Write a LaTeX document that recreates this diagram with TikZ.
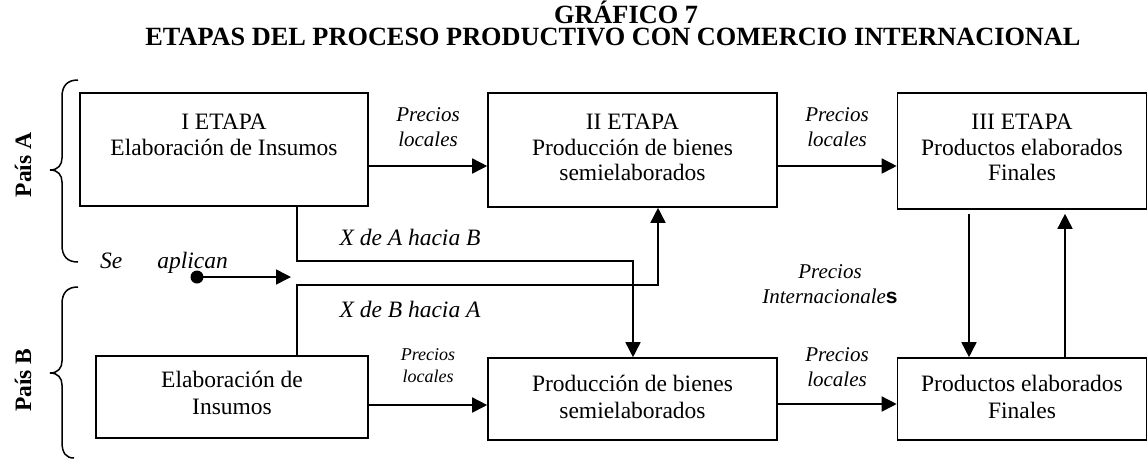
\documentclass[tikz,border=0pt]{standalone}
\usepackage{fontspec}
\setmainfont{Liberation Serif}
\newfontfamily\sansfam{Liberation Sans}
\usetikzlibrary{arrows.meta,calc}
\begin{document}
\begin{tikzpicture}[x=1pt,y=-1pt,
  box/.style={draw, line width=1.6pt, inner sep=0pt},
  body/.style={font=\fontsize{23.5}{25.5}\selectfont, align=center, inner sep=0pt},
  bodyb/.style={font=\fontsize{23.5}{27}\selectfont, align=center, inner sep=0pt},
  lbl/.style={font=\fontsize{21}{25}\selectfont\itshape, align=center, inner sep=0pt},
  lbls/.style={font=\fontsize{18}{22}\selectfont\itshape, align=center, inner sep=0pt},
  xlbl/.style={font=\fontsize{23.5}{26}\selectfont\itshape, inner sep=0pt},
  ttl/.style={font=\fontsize{26.3}{28}\selectfont\bfseries, inner sep=0pt},
  pais/.style={font=\fontsize{23.5}{26}\selectfont\bfseries, inner sep=0pt, rotate=90},
  arr/.style={line width=1.6pt, -{Triangle[length=15pt,width=15pt]}},
  ln/.style={line width=1.6pt},
  brace/.style={line width=1.5pt},
  dotst/.style={circle, fill=black, inner sep=0pt, minimum size=13pt},
]
\useasboundingbox (0,0) rectangle (1148,459);

% title
\node[ttl, anchor=base] (t1) at (626,23) {GRÁFICO 7};
\node[ttl, anchor=base] (t2) at (613,45) {ETAPAS DEL PROCESO PRODUCTIVO CON COMERCIO INTERNACIONAL};

% boxes
\node[box, minimum width=288pt, minimum height=113pt] (A1) at (224,149.5) {};
\node[box, minimum width=289pt, minimum height=114pt] (A2) at (632.5,150) {};
\node[box, minimum width=249pt, minimum height=116pt] (A3) at (1022,151) {};
\node[box, minimum width=272pt, minimum height=82pt] (B1) at (232,397) {};
\node[box, minimum width=289pt, minimum height=82pt] (B2) at (632.5,399) {};
\node[box, minimum width=249pt, minimum height=82pt] (B3) at (1022,399) {};

% box texts
\node[body, anchor=north] (A1t) at ($(A1.north)+(0,22)$) {I ETAPA\\Elaboración de Insumos};
\node[body, anchor=north] (A2t) at ($(A2.north)+(0,22)$) {II ETAPA\\Producción de bienes\\semielaborados};
\node[body, anchor=north] (A3t) at ($(A3.north)+(0,22)$) {III ETAPA\\Productos elaborados\\Finales};
\node[bodyb] (B1t) at (232,393) {Elaboración de\\Insumos};
\node[bodyb] (B2t) at (632.5,397) {Producción de bienes\\semielaborados};
\node[bodyb] (B3t) at (1022,397) {Productos elaborados\\Finales};

% horizontal arrows
\draw[arr] ($(A1.east)+(0,16.5)$) coordinate (h1) -- (h1 -| A2.west);
\draw[arr] ($(A2.east)+(0,16)$) coordinate (h2) -- (h2 -| A3.west);
\draw[arr] ($(B1.east)+(0,8)$) coordinate (h3) -- (h3 -| B2.west);
\draw[arr] ($(B2.east)+(0,5)$) coordinate (h4) -- (h4 -| B3.west);

% labels
\node[lbl] (p1) at (428,127) {Precios\\locales};
\node[lbl] (p2) at (837,127) {Precios\\locales};
\node[lbls] (p3) at (428,366) {Precios\\locales};
\node[lbl] (p4) at (837,367) {Precios\\locales};
\node[lbl] (p5) at (830,284) {Precios\\Internacionale{\sansfam\bfseries\upshape s}};

% vertical arrows between stage III boxes
\draw[arr] ($(A3.south)+(-53,4)$) coordinate (v1) -- (v1 |- B3.north);
\draw[arr] ($(B3.north)+(43,0)$) coordinate (v2) -- ($(v2 |- A3.south)+(0,4)$);

% trade flows
\coordinate (xab) at (633,261);
\coordinate (xba) at (658,285);
\draw[arr] ($(A1.south)+(73,0)$) |- (xab) -- (xab |- B2.north);
\draw[arr] ($(B1.north)+(65,0)$) |- (xba) -- (xba |- A2.south);
\node[xlbl] (xl1) at (410,237) {X de A hacia B};
\node[xlbl] (xl2) at (410,309) {X de B hacia A};

% se aplican
\node[xlbl] (sa) at (164,263) {Se\hspace{35pt}aplican};
\node[dotst] (dot) at (197,277) {};
\coordinate (aplt) at (291,277);
\draw[arr] (dot.center) -- (aplt);

% braces
\draw[brace] (78,80) .. controls (67,80) and (62,86) .. (62,97) -- (62,158)
  .. controls (62,165) and (58,170) .. (50,170)
  .. controls (58,170) and (62,175) .. (62,182) -- (62,245)
  .. controls (62,256) and (67,262) .. (78,262);
\draw[brace] (78,287) .. controls (67,287) and (62,293) .. (62,304) -- (62,361)
  .. controls (62,368) and (58,373) .. (50,373)
  .. controls (58,373) and (62,378) .. (62,385) -- (62,442)
  .. controls (62,453) and (66,458) .. (74,458);
\node[pais] (pa) at (23,165) {País A};
\node[pais] (pb) at (23,380) {País B};
\end{tikzpicture}
\end{document}
